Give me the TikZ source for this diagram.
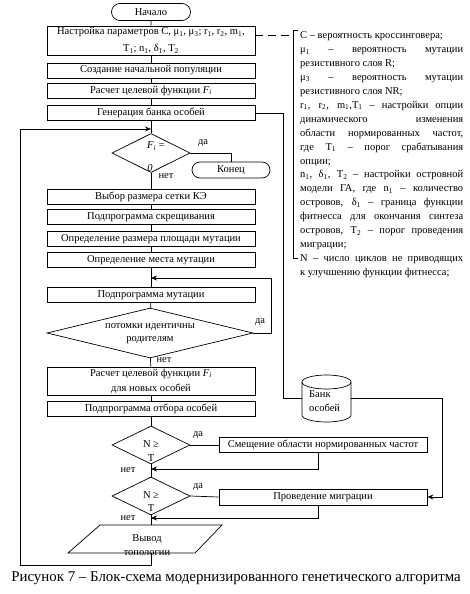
\documentclass[tikz,border=0pt]{standalone}
\usepackage{fontspec}
\setmainfont{Liberation Serif}
\usetikzlibrary{shapes.geometric,shapes.misc,arrows.meta}
\newcommand{\sbs}[1]{\textsubscript{#1}}
\newcommand{\jl}[1]{\makebox[163pt][s]{#1}}
\tikzset{
  txt/.style={font=\fontsize{10.5}{12.6}\selectfont, inner sep=0pt},
  proc/.style={txt, draw, line width=0.7pt, rectangle, minimum width=208pt, align=center},
  term/.style={txt, draw, line width=0.7pt, rounded rectangle, minimum width=79pt, minimum height=17pt},
  dec/.style={draw, line width=0.7pt, diamond, inner sep=0pt},
  flow/.style={line width=0.7pt},
  arr/.style={-{Stealth[length=6pt,width=5pt]}},
  leg/.style={txt, anchor=base west},
}
\begin{document}
\begin{tikzpicture}[x=1pt,y=-1pt]
\useasboundingbox[fill=white] (0,0) rectangle (469,594);

% main column
\node[term] (start) at (151,12) {Начало};
\node[proc, minimum height=29pt, font=\fontsize{10.5}{17}\selectfont] (b1) at (151,40.5)
  {Настройка параметров C, μ\sbs{1}, μ\sbs{3}; r\sbs{1}, r\sbs{2}, m\sbs{1},\\T\sbs{1}; n\sbs{1}, δ\sbs{1}, T\sbs{2}};
\node[proc, minimum height=15pt] (b2) at (151,70.5) {Создание начальной популяции};
\node[proc, minimum height=15pt] (b3) at (151,90.5) {Расчет целевой функции \textit{F}\sbs{\textit{i}}};
\node[proc, minimum height=15pt] (b4) at (151,113) {Генерация банка особей};
\coordinate (j0) at (151,129);
\node[dec, minimum width=78pt, minimum height=39pt] (d1) at (151,153) {};
\node[txt] (d1t) at (156,146) {\textit{F}\sbs{\textit{i}} =};
\node[txt] (d1z) at (150,168) {\textit{0}};
\node[term, minimum width=78pt, minimum height=16pt] (kon) at (231,170) {Конец};
\node[proc, minimum height=15pt] (b5) at (151,196.5) {Выбор размера сетки КЭ};
\node[proc, minimum height=15pt] (b6) at (151,217) {Подпрограмма скрещивания};
\node[proc, minimum height=15pt] (b7) at (151,239) {Определение размера площади мутации};
\node[proc, minimum height=15pt] (b8) at (151,260) {Определение места мутации};
\coordinate (j1) at (151,278);
\node[proc, minimum height=15pt] (b9) at (151,295) {Подпрограмма мутации};
\node[dec, minimum width=206pt, minimum height=50pt] (d2) at (150,333) {};
\node[txt, align=center, font=\fontsize{10.5}{13}\selectfont] (d2t) at (150,334) {потомки идентичны\\родителям};
\node[proc, minimum height=28pt, font=\fontsize{10.5}{15}\selectfont] (b10) at (151,381)
  {Расчет целевой функции \textit{F}\sbs{\textit{i}}\\для новых особей};
\node[proc, minimum height=15pt] (b11) at (151,409) {Подпрограмма отбора особей};
\node[dec, minimum width=78pt, minimum height=38pt] (d3) at (151,445) {};
\node[txt] (d3t) at (151,444) {N ≥};
\node[txt] (d3u) at (151,458) {T};
\node[proc, minimum height=15pt] (b12) at (323,445) {Смещение области нормированных частот};
\coordinate (j2) at (151,469);
\node[dec, minimum width=78pt, minimum height=38pt] (d4) at (151,496) {};
\node[txt] (d4t) at (151,495) {N ≥};
\node[txt] (d4u) at (151,508) {T};
\node[proc, minimum height=16pt] (b13) at (323,497) {Проведение миграции};
\coordinate (j3) at (151,518);
% output parallelogram
\draw[flow] (68,553) -- (100,525) -- (222,525) -- (195,553) -- cycle;
\coordinate (parT) at (151,525);
\coordinate (parB) at (151,553);
\node[txt, align=center, font=\fontsize{10.5}{14}\selectfont] (par) at (147,545) {Вывод\\топологии};

% bank cylinder
\draw[flow] (302,382) -- (302,415) arc (180:0:24.5 and 7) -- (351,382);
\draw[flow] (326.5,382) ellipse (24.5 and 7);
\node[minimum width=49pt, minimum height=40pt, inner sep=0pt] (bank) at (326.5,398) {};
\node[txt, align=left, anchor=west, font=\fontsize{10.5}{14}\selectfont] (banktxt) at (309,401) {Банк\\особей};

% labels
\node[txt] (y1) at (203,143) {да};
\node[txt] (n1) at (166,176) {нет};
\node[txt] (y2) at (260,322) {да};
\node[txt] (n2) at (164,360) {нет};
\node[txt] (y3) at (198,435) {да};
\node[txt] (n3) at (128,470) {нет};
\node[txt] (y4) at (198,487) {да};
\node[txt] (n4) at (128,518) {нет};

% connectors
\draw[flow] (start) -- (b1);
\draw[flow] (b1) -- (b2);
\draw[flow] (b2) -- (b3);
\draw[flow] (b3) -- (b4);
\draw[flow] (b4) -- (d1);
\draw[flow] (d1.east) -| (kon.north);
\draw[flow] (d1) -- (b5);
\draw[flow] (b5) -- (b6);
\draw[flow] (b6) -- (b7);
\draw[flow] (b7) -- (b8);
\draw[flow] (b8) -- (b9);
\draw[flow] (b9) -- (d2);
\draw[flow] (d2) -- (b10);
\draw[flow] (b10) -- (b11);
\draw[flow] (b11) -- (d3);
\draw[flow] (d3) -- (d4);
\draw[flow] (d4) -- (parT);
\draw[flow,arr] (parB) -- (151,565) -| (20,129) -- (j0);
\draw[flow,arr] (d2.east) -| (271,278) -- (j1);
\draw[flow] (d3.east) -- (b12.west);
\draw[flow,arr] ([xshift=-5pt]b12.south) |- (j2);
\draw[flow] (d4.east) -- (b13.west);
\draw[flow,arr] ([xshift=-5pt]b13.south) |- (j3);
\draw[flow] (b4.east) -| (283,398) -- (bank.west);
\draw[flow,arr] (bank.east) -| (442,497) -- (b13.east);

% legend
\draw[flow, dash pattern=on 8pt off 5pt] (b1.east |- 0,35) -- (293,35);
\draw[flow] (298,30) -- (293,30) -- (293,258) -- (298,258);
\node[leg] (l1)  at (300,38.5)  {C – вероятность кроссинговера;};
\node[leg] (l2)  at (300,52.4)  {\jl{μ\sbs{1} – вероятность мутации}};
\node[leg] (l3)  at (300,66.4)  {резистивного слоя R;};
\node[leg] (l4)  at (300,80.3)  {\jl{μ\sbs{3} – вероятность мутации}};
\node[leg] (l5)  at (300,94.3)  {резистивного слоя NR;};
\node[leg] (l6)  at (300,108.2) {\jl{r\sbs{1}, r\sbs{2}, m\sbs{1},T\sbs{1} – настройки опции}};
\node[leg] (l7)  at (300,122.1) {\jl{динамического изменения}};
\node[leg] (l8)  at (300,136.1) {\jl{области нормированных частот,}};
\node[leg] (l9)  at (300,150.0) {\jl{где T\sbs{1} – порог срабатывания}};
\node[leg] (l10) at (300,164.0) {опции;};
\node[leg] (l11) at (300,177.9) {\jl{n\sbs{1}, δ\sbs{1}, T\sbs{2} – настройки островной}};
\node[leg] (l12) at (300,191.8) {\jl{модели ГА, где n\sbs{1} – количество}};
\node[leg] (l13) at (300,205.8) {\jl{островов, δ\sbs{1} – граница функции}};
\node[leg] (l14) at (300,219.7) {\jl{фитнесса для окончания синтеза}};
\node[leg] (l15) at (300,233.7) {\jl{островов, T\sbs{2} – порог проведения}};
\node[leg] (l16) at (300,247.6) {миграции;};
\node[leg] (l17) at (300,261.5) {\jl{N – число циклов не приводящих}};
\node[leg] (l18) at (300,275.5) {к улучшению функции фитнесса;};

% caption
\node[txt, font=\fontsize{14.9}{16}\selectfont] (cap) at (236,578) {Рисунок 7 – Блок-схема модернизированного генетического алгоритма};
\end{tikzpicture}
\end{document}
